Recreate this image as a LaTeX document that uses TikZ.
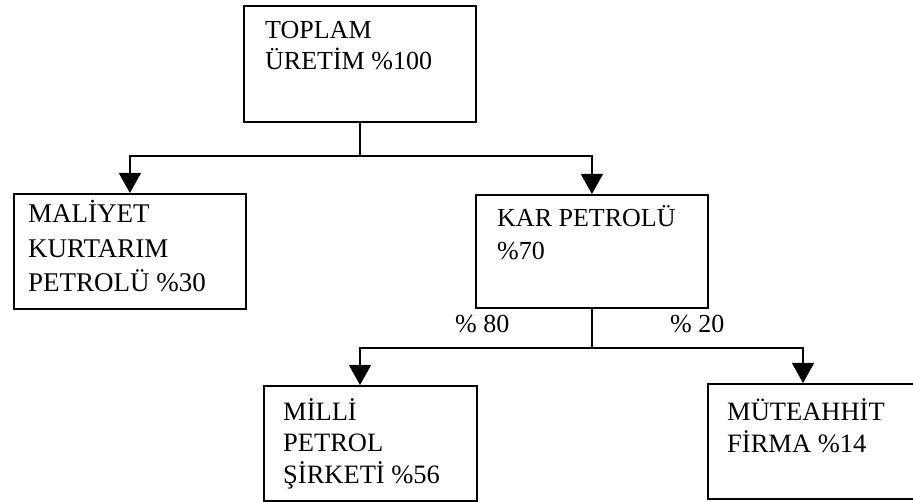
\documentclass[tikz,border=0pt]{standalone}
\usepackage{fontspec}
\setmainfont{Liberation Serif}
\usetikzlibrary{arrows.meta}
\begin{document}
\begin{tikzpicture}[x=1pt,y=-1pt,
  kutu/.style={draw,line width=1.8pt,inner sep=0pt,anchor=north west},
  yazi/.style 2 args={anchor=base west,inner sep=0pt,align=left,font=\fontsize{#1}{#2}\selectfont},
  oran/.style={anchor=base west,inner sep=0pt,font=\fontsize{26}{30}\selectfont},
  ok/.style={-{Triangle[width=22pt,length=20pt]}},
  hat/.style={line width=1.5pt}]
\def\yA{156};
\def\yB{348};
\useasboundingbox (0,0) rectangle (913,502);
\clip (0,0) rectangle (913,502);
% kutular
\node[kutu,minimum width=232,minimum height=116] (toplam) at (243,5) {};
\node[kutu,minimum width=232,minimum height=115] (maliyet) at (13,193) {};
\node[kutu,minimum width=232,minimum height=113] (kar) at (475,194) {};
\node[kutu,minimum width=213,minimum height=115] (milli) at (263,385) {};
\node[kutu,minimum width=230,minimum height=115] (muteahhit) at (707,383) {};
% yazilar (son satirin taban cizgisi)
\node[yazi={26}{31}] (toplamT) at (265,70) {TOPLAM\\ÜRETİM \%100};
\node[yazi={27}{34.5}] (maliyetT) at (28,292) {MALİYET\\KURTARIM\\PETROLÜ \%30};
\node[yazi={26}{33}] (karT) at (497,260) {KAR PETROLÜ\\\%70};
\node[yazi={26.5}{31.5}] (milliT) at (283,483) {MİLLİ\\PETROL\\ŞİRKETİ \%56};
\node[yazi={26.5}{32}] (muteahhitT) at (727,452) {MÜTEAHHİT\\FİRMA \%14};
\node[oran] (o80) at (455,333) {\% 80};
\node[oran] (o20) at (670,333) {\% 20};
% baglantilar
\coordinate (j1) at (toplam.south |- 0,\yA);
\coordinate (j2) at (kar.south |- 0,\yB);
\coordinate (milliG) at (360,385);
\coordinate (muteahhitG) at (803,383);
\draw[hat] (toplam.south) -- (j1);
\draw[hat,ok] (j1) -| (maliyet.north);
\draw[hat,ok] (j1) -| (kar.north);
\draw[hat] (kar.south) -- (j2);
\draw[hat,ok] (j2) -| (milliG);
\draw[hat,ok] (j2) -| (muteahhitG);
\end{tikzpicture}
\end{document}
